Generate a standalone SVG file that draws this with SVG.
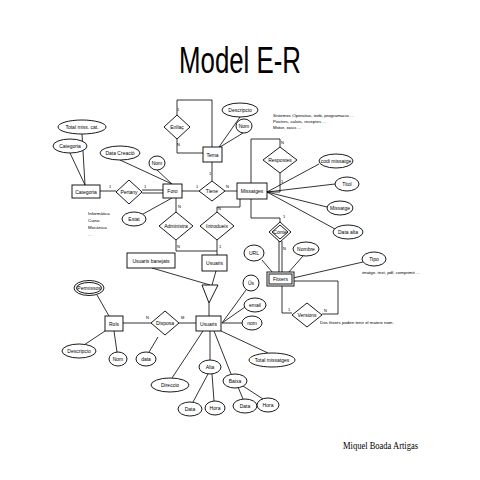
<svg xmlns="http://www.w3.org/2000/svg" width="480" height="480" viewBox="0 0 480 480">
<style>
.l{stroke:#000;stroke-width:0.8;fill:none}
.s{fill:#fff;stroke:#000;stroke-width:0.9}
.t{font-family:"Liberation Sans",Arial,sans-serif;font-size:5px;text-anchor:middle;dominant-baseline:central;fill:#000}
.c{font-family:"Liberation Sans",Arial,sans-serif;font-size:5px;fill:#000}
.n{font-family:"Liberation Sans",Arial,sans-serif;font-size:4.4px;fill:#000}
</style>
<rect width="480" height="480" fill="#fff"/>
<text x="240" y="73" font-family="Liberation Sans,Arial,sans-serif" font-size="36" text-anchor="middle" textLength="122" lengthAdjust="spacingAndGlyphs">Model E-R</text>
<text x="343" y="449" font-family="Liberation Serif,Times New Roman,serif" font-size="10" textLength="75" lengthAdjust="spacingAndGlyphs">Miquel Boada Artigas</text>

<g id="connectors">
<path class="l" d="M177,115 V100 H212 V147"/>
<path class="l" d="M177,139 V153 H203"/>
<path class="l" d="M240,117 L219,147 M243,133 L220,147"/>
<path class="l" d="M212,162 V181 M182,191 H199 M225,191 H237"/>
<path class="l" d="M100,191 H116"/>
<path class="l" d="M142,190 H163 M142,193 H163"/>
<path class="l" d="M82,134 L85,185 M70,153 L85,185"/>
<path class="l" d="M120,160 L172,184 M157,170 L172,184"/>
<path class="l" d="M134,219 L172,198"/>
<path class="l" d="M176,198 V212 M176,240 V251 H217 M217,240 V255"/>
<path class="l" d="M240,199 V207 H217 V212"/>
<path class="l" d="M251,183 V139 H280 V147 M280,173 V192 H267"/>
<path class="l" d="M267,192 L319,164 M267,192 L335,184 M267,192 L327,207 M267,192 L335,229"/>
<path class="l" d="M251,199 V218 H280 V223"/>
<path class="l" d="M279,241 V273 M282,241 V273"/>
<path class="l" d="M262,260 L273,273 M303,256 L288,273 M293,278 L363,262"/>
<path class="l" d="M293,281 H338 V314 H322 M282,285 V313 H292"/>
<path class="l" d="M152,268 L210,285 M216,271 L212,285 M209,303 V316"/>
<path class="l" d="M123,323 H151 M179,323 H196"/>
<path class="l" d="M97,295 L109,316 M105,331 L84,345 M114,331 L117,352 M158,337 L149,352"/>
<path class="l" d="M222,323 L246,290 M222,323 L245,307 M222,323 L242,323 M221,331 L268,353 M203,331 L172,378 M210,331 V360 M214,331 L231,374"/>
<path class="l" d="M208,374 L193,402 M212,374 L214,401 M238,387 L243,399 M243,386 L263,399"/>
</g>

<g id="labels-card" class="c">
<text x="177" y="111" font-size="4">1</text>
<text x="177" y="146" font-size="4">N</text>
<text x="209" y="175" font-size="4">1</text>
<text x="196" y="188" font-size="4">1</text>
<text x="226" y="188" font-size="4">N</text>
<text x="109" y="188" font-size="4">1</text>
<text x="144" y="188" font-size="4">1</text>
<text x="178" y="208" font-size="4">N</text>
<text x="177" y="248" font-size="4">N</text>
<text x="219" y="248" font-size="4">1</text>
<text x="218" y="210" font-size="4">N</text>
<text x="281" y="144" font-size="4">N</text>
<text x="281" y="183" font-size="4">1</text>
<text x="283" y="218" font-size="4">1</text>
<text x="283" y="250" font-size="4">N</text>
<text x="288" y="311" font-size="4">1</text>
<text x="324" y="312" font-size="4">N</text>
<text x="146" y="319" font-size="4">N</text>
<text x="181" y="319" font-size="4">M</text>
</g>

<g id="notes" class="n">
<text x="273" y="117">Sistemes Operatius, web, programacio ...</text>
<text x="273" y="123">Postres, salats, receptes ...</text>
<text x="273" y="129">Motor, xasis ...</text>
<text x="88" y="215">Informàtica</text>
<text x="88" y="222">Cuina</text>
<text x="88" y="229">Mecànica</text>
<text x="88" y="236">...</text>
<text x="362" y="274">imatge, text, pdf, comprimit ...</text>
<text x="320" y="324">Dos fitxers poden tenir el mateix nom.</text>
</g>

<g id="enllac"><polygon class="s" points="177,115 190,127 177,139 164,127"/><text class="t" x="177" y="127">Enllaç</text></g>
<g id="tema"><rect class="s" x="203" y="147" width="19" height="15"/><text class="t" x="212.5" y="154.5">Tema</text></g>
<g id="descripcio-tema"><ellipse class="s" cx="240" cy="110" rx="18" ry="7"/><text class="t" x="240" y="110">Descripcio</text></g>
<g id="nom-tema"><ellipse class="s" cx="244" cy="126" rx="8" ry="7"/><text class="t" x="244" y="126">Nom</text></g>
<g id="foro"><rect class="s" x="163" y="184" width="19" height="14"/><text class="t" x="172.5" y="191">Foro</text></g>
<g id="tiene"><polygon class="s" points="212,181 225,191 212,201 199,191"/><text class="t" x="212" y="191">Tiene</text></g>
<g id="missatges"><rect class="s" x="237" y="183" width="30" height="16"/><text class="t" x="252" y="191">Missatges</text></g>
<g id="categoria"><rect class="s" x="72" y="185" width="28" height="13"/><text class="t" x="86" y="191.5">Categoria</text></g>
<g id="pertany"><polygon class="s" points="129,180 142,192 129,204 116,192"/><text class="t" x="129" y="192">Pertany</text></g>
<g id="total-cat"><ellipse class="s" cx="82" cy="127" rx="24" ry="7"/><text class="t" x="82" y="127">Total miss. cat.</text></g>
<g id="categoria-attr"><ellipse class="s" cx="70" cy="146" rx="17" ry="7"/><text class="t" x="70" y="146">Categoria</text></g>
<g id="data-creacio"><ellipse class="s" cx="120" cy="153" rx="20" ry="7"/><text class="t" x="120" y="153">Data Creació</text></g>
<g id="nom-foro"><ellipse class="s" cx="157" cy="163" rx="8" ry="7"/><text class="t" x="157" y="163">Nom</text></g>
<g id="estat"><ellipse class="s" cx="134" cy="219" rx="12" ry="7"/><text class="t" x="134" y="219">Estat</text></g>
<g id="administra"><polygon class="s" points="176,212 193,226 176,240 159,226"/><text class="t" x="176" y="226">Administra</text></g>
<g id="introdueix"><polygon class="s" points="217,212 234,226 217,240 200,226"/><text class="t" x="217" y="226">Introdueix</text></g>
<g id="respostes"><polygon class="s" points="280,147 297,160 280,173 263,160"/><text class="t" x="280" y="160">Respostes</text></g>
<g id="codi"><ellipse class="s" cx="336" cy="161" rx="17" ry="7"/><text class="t" x="336" y="161">codi missatge</text></g>
<g id="titol"><ellipse class="s" cx="347" cy="184" rx="12" ry="7"/><text class="t" x="347" y="184">Titol</text></g>
<g id="missatge"><ellipse class="s" cx="340" cy="208" rx="13" ry="7"/><text class="t" x="340" y="208">Missatge</text></g>
<g id="data-alta"><ellipse class="s" cx="348" cy="232" rx="15" ry="7"/><text class="t" x="348" y="232">Data alta</text></g>
<g id="conte"><polygon class="s" points="280,222 291,232 280,242 269,232"/><polygon class="s" points="280,225 288,232 280,239 272,232"/><text class="t" x="280" y="232">Conte</text></g>
<g id="fitxers"><rect class="s" x="267" y="272" width="27" height="14"/><rect class="s" x="269" y="274" width="23" height="10"/><text class="t" x="280.5" y="279">Fitxers</text></g>
<g id="url"><ellipse class="s" cx="254" cy="253" rx="10" ry="8"/><text class="t" x="254" y="253">URL</text></g>
<g id="nombre"><ellipse class="s" cx="306" cy="249" rx="13" ry="7"/><text class="t" x="306" y="249">Nombre</text></g>
<g id="tipo"><ellipse class="s" cx="374" cy="259" rx="12" ry="7"/><text class="t" x="374" y="259">Tipo</text></g>
<g id="versions"><polygon class="s" points="307,303 322,315 307,327 292,315"/><text class="t" x="307" y="315">Versions</text></g>
<g id="usuaris-banejats"><rect class="s" x="127" y="253" width="48" height="15"/><text class="t" x="151" y="260.5">Usuaris banejats</text></g>
<g id="usuaris-top"><rect class="s" x="202" y="255" width="25" height="16"/><text class="t" x="214.5" y="263">Usuaris</text></g>
<g id="isa"><polygon class="s" points="202,285 218,285 209,303"/></g>
<g id="usuaris"><rect class="s" x="196" y="316" width="25" height="15"/><text class="t" x="208.5" y="323.5">Usuaris</text></g>
<g id="disposa"><polygon class="s" points="165,311 179,323 165,335 151,323"/><text class="t" x="165" y="323">Disposa</text></g>
<g id="rols"><rect class="s" x="105" y="316" width="18" height="15"/><text class="t" x="114" y="323.5">Rols</text></g>
<g id="permissos"><ellipse class="s" cx="89" cy="288" rx="15" ry="7.5"/><ellipse class="s" cx="89" cy="288" rx="12.5" ry="5.5"/><text class="t" x="89" y="288">Permissos</text></g>
<g id="descripcio-rols"><ellipse class="s" cx="79" cy="351" rx="17" ry="7"/><text class="t" x="79" y="351">Descripcio</text></g>
<g id="nom-rols"><ellipse class="s" cx="118" cy="359" rx="9" ry="7"/><text class="t" x="118" y="359">Nom</text></g>
<g id="data-disposa"><ellipse class="s" cx="146" cy="359" rx="10" ry="7"/><text class="t" x="146" y="359">data</text></g>
<g id="us"><ellipse class="s" cx="251" cy="283" rx="8" ry="8"/><text class="t" x="251" y="283">Ús</text></g>
<g id="email"><ellipse class="s" cx="255" cy="305" rx="11" ry="7"/><text class="t" x="255" y="305">email</text></g>
<g id="nom-usuari"><ellipse class="s" cx="252" cy="323" rx="10" ry="7"/><text class="t" x="252" y="323">nom</text></g>
<g id="total-missatges"><ellipse class="s" cx="272" cy="360" rx="23" ry="7"/><text class="t" x="272" y="360">Total missatges</text></g>
<g id="direccio"><ellipse class="s" cx="170" cy="385" rx="19" ry="7"/><text class="t" x="170" y="385">Direccio</text></g>
<g id="alta"><ellipse class="s" cx="210" cy="367" rx="11" ry="7"/><text class="t" x="210" y="367">Alta</text></g>
<g id="baixa"><ellipse class="s" cx="235" cy="381" rx="12" ry="7"/><text class="t" x="235" y="381">Baixa</text></g>
<g id="data-alta-u"><ellipse class="s" cx="190" cy="409" rx="12" ry="7"/><text class="t" x="190" y="409">Data</text></g>
<g id="hora-alta"><ellipse class="s" cx="215" cy="408" rx="10" ry="7"/><text class="t" x="215" y="408">Hora</text></g>
<g id="data-baixa"><ellipse class="s" cx="245" cy="406" rx="12" ry="7"/><text class="t" x="245" y="406">Data</text></g>
<g id="hora-baixa"><ellipse class="s" cx="268" cy="405" rx="11" ry="7"/><text class="t" x="268" y="405">Hora</text></g>
</svg>
